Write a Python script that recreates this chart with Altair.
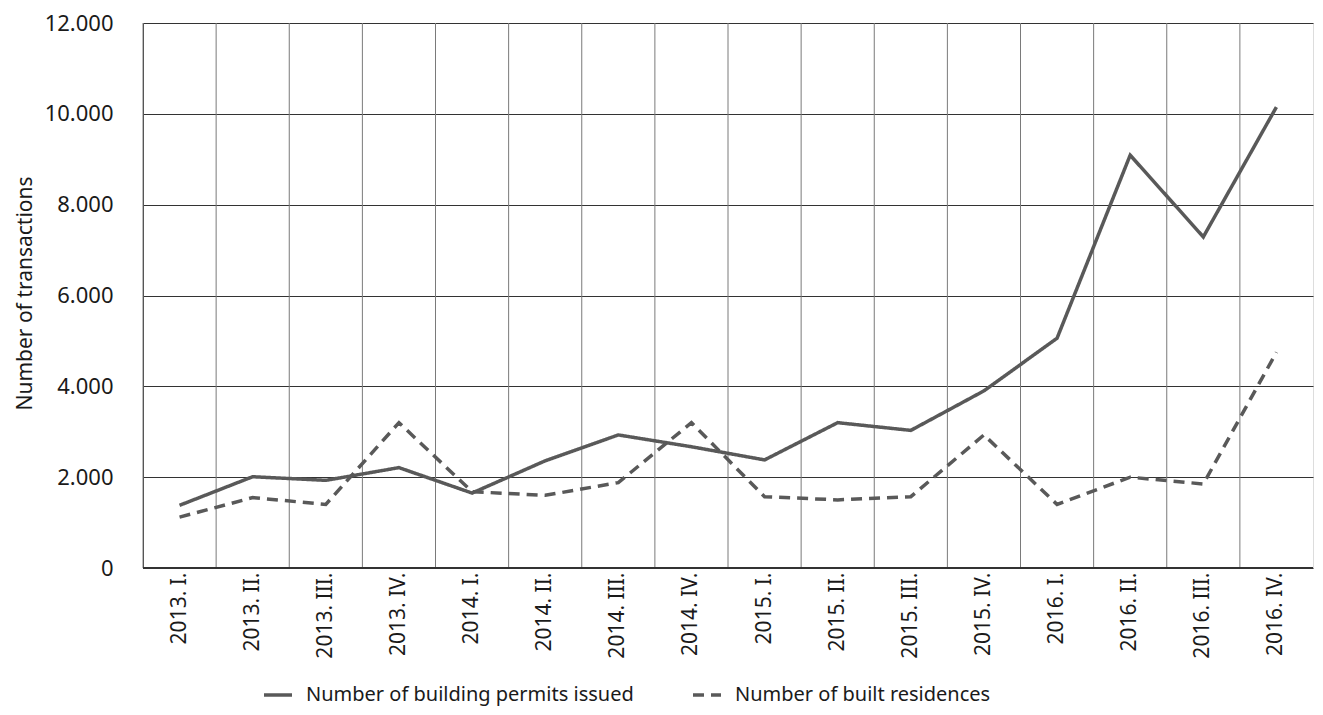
import altair as alt
import pandas as pd

quarters = ["2013. I.", "2013. II.", "2013. III.", "2013. IV.",
            "2014. I.", "2014. II.", "2014. III.", "2014. IV.",
            "2015. I.", "2015. II.", "2015. III.", "2015. IV.",
            "2016. I.", "2016. II.", "2016. III.", "2016. IV."]
permits = [1380, 2010, 1930, 2210, 1650, 2360, 2930, 2670,
           2380, 3200, 3030, 3900, 5060, 9090, 7290, 10150]
residences = [1120, 1550, 1400, 3200, 1680, 1600, 1880, 3200,
              1570, 1500, 1570, 2930, 1400, 2000, 1850, 4750]
series_names = ["Number of building permits issued", "Number of built residences"]
y_ticks = [0, 2000, 4000, 6000, 8000, 10000, 12000]

rows = []
for q, p, r in zip(quarters, permits, residences):
    rows.append({"q": q, "series": series_names[0], "value": p})
    rows.append({"q": q, "series": series_names[1], "value": r})
df = pd.DataFrame(rows)
grid_df = pd.DataFrame({"q": quarters})

W, H = 1170, 545
FONT = "Noto Sans"
TXT = "#1a1a1a"
x_scale = alt.Scale(type="band", domain=quarters, paddingInner=0, paddingOuter=0)
x_axis = alt.Axis(title=None, labelAngle=-90, labelAlign="right",
                  labelBaseline="middle", labelPadding=4, ticks=False,
                  domain=False, grid=False, labelFontSize=21,
                  labelColor=TXT, labelFont=FONT, labelLimit=0)

vgrid = alt.Chart(grid_df).mark_rule(color="#7a7a7a", strokeWidth=1).encode(
    x=alt.X("q:N", scale=x_scale, sort=quarters, bandPosition=0, axis=x_axis),
    y=alt.value(0),
    y2=alt.value(H),
)

lines = alt.Chart(df).mark_line(strokeWidth=3.5, color="#595959").encode(
    x=alt.X("q:N", scale=x_scale, sort=quarters, bandPosition=0.5, axis=x_axis),
    y=alt.Y("value:Q", scale=alt.Scale(domain=[0, 12000], nice=False),
            axis=alt.Axis(title="Number of transactions", values=y_ticks,
                          labelExpr="replace(format(datum.value, ','), ',', '.')",
                          ticks=False, labelPadding=30, labelFontSize=22,
                          labelColor=TXT, labelFont=FONT,
                          titleFont=FONT, titleFontSize=21, titleFontWeight="normal",
                          titleColor=TXT, titleX=-118, titleY=270,
                          titleAngle=-90, titleAlign="center", titleBaseline="middle",
                          grid=True, gridColor="#333333", gridWidth=1, gridOpacity=1,
                          domain=True, domainColor="#333333", domainWidth=1)),
    strokeDash=alt.StrokeDash("series:N",
        scale=alt.Scale(domain=series_names, range=[[1, 0], [11, 7]]),
        legend=alt.Legend(title=None, orient="none", legendX=119, legendY=656,
                          direction="horizontal", symbolType="stroke",
                          symbolStrokeColor="#595959", symbolStrokeWidth=3.5,
                          symbolSize=784, labelFontSize=20, labelFont=FONT,
                          labelColor=TXT, labelLimit=0, columnPadding=52,
                          symbolOffset=0, labelOffset=12)),
)

bottom = alt.Chart(grid_df).mark_rule(color="#333333", strokeWidth=1).encode(
    x=alt.value(0), x2=alt.value(W), y=alt.value(H))

chart = alt.layer(vgrid, lines, bottom).properties(
    width=W, height=H,
    autosize=alt.AutoSizeParams(type="none"),
    padding={"left": 135, "top": 15, "right": 2, "bottom": 138},
).configure_view(stroke="#333333", strokeWidth=1).configure(background="white")

chart.save("out.html", embed_options={"renderer": "svg", "actions": False})
